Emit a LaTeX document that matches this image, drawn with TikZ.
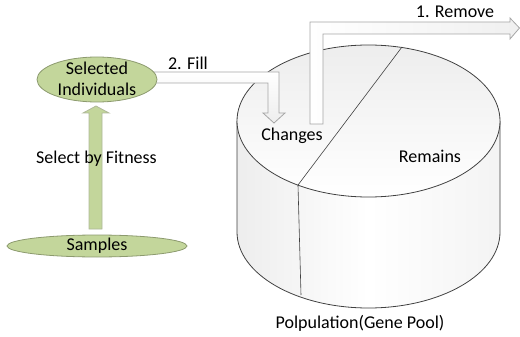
\documentclass[tikz,border=0pt]{standalone}
\usepackage{fontspec}
\setmainfont{Carlito}
\usetikzlibrary{shapes.geometric}
\definecolor{olive}{HTML}{C3D69B}
\definecolor{olivedraw}{HTML}{8C9A6E}
\definecolor{arrowline}{HTML}{A6A6A6}
\tikzset{
  lbl/.style={font=\fontsize{18}{21}\selectfont, inner sep=0pt, align=center},
  greenell/.style={ellipse, draw=olivedraw, fill=olive, line width=0.8pt, inner sep=0pt},
  blockarrow/.style={draw=arrowline, line width=0.8pt, left color=white, right color=gray!12},
  blockarrowv/.style={draw=arrowline, line width=0.8pt, top color=white, bottom color=gray!14},
  cylline/.style={draw=black!75, line width=0.8pt},
}
\begin{document}
\begin{tikzpicture}[x=1pt,y=-1pt]
\useasboundingbox (0,0) rectangle (520,337);
% cylinder side
\path[left color=gray!14, right color=gray!9, middle color=white]
  (237,121) -- (237,232) arc[start angle=180, end angle=360, x radius=131.5pt, y radius=76pt] -- (500,121) -- cycle;
\draw[cylline] (237,121) -- (237,232) arc[start angle=180, end angle=360, x radius=131.5pt, y radius=76pt] -- (500,121);
% cylinder top
\path[top color=gray!14, bottom color=white] (368.5,121) ellipse [x radius=131.5pt, y radius=76pt];
\draw[cylline] (368.5,121) ellipse [x radius=131.5pt, y radius=76pt];
\coordinate (dtop) at (402,47);
\coordinate (dmid) at (298,185);
\coordinate (dbot) at (301,295);
\draw[black!75, line width=0.6pt] (dtop) -- (dmid) -- (dbot);
% up arrow
\draw[draw=olivedraw!70, line width=0.8pt, fill=olive]
  (89,229) -- (89,113) -- (83,113) -- (96,106) -- (109,113) -- (102,113) -- (102,229) -- cycle;
% fill arrow
\draw[blockarrowv]
  (140,72) -- (279,72) -- (279,113) -- (285,113) -- (274,123) -- (263,113) -- (268,113) -- (268,83) -- (140,83) -- cycle;
% remove arrow
\draw[blockarrow]
  (310,124) -- (310,22) -- (510,22) -- (510,18) -- (519.5,28) -- (510,39) -- (510,34) -- (323,34) -- (323,124) -- cycle;
% ellipses
\node[greenell, minimum width=120pt, minimum height=45pt] (sel) at (97,79.5) {};
\node[lbl] (selt) at (97,79) {Selected\\Individuals};
\node[greenell, minimum width=180pt, minimum height=22pt] (samp) at (97,246) {};
\node[lbl] (sampt) at (97,246) {Samples};
% labels
\node[lbl] (fit) at (96.5,159) {Select by Fitness};
\node[lbl] (fill) at (188,63) {2. Fill};
\node[lbl] (rem) at (455,12) {1. Remove};
\node[lbl] (chg) at (292,136) {Changes};
\node[lbl] (rmn) at (430,156) {Remains};
\node[lbl] (pop) at (360,323) {Polpulation(Gene Pool)};
\end{tikzpicture}
\end{document}
